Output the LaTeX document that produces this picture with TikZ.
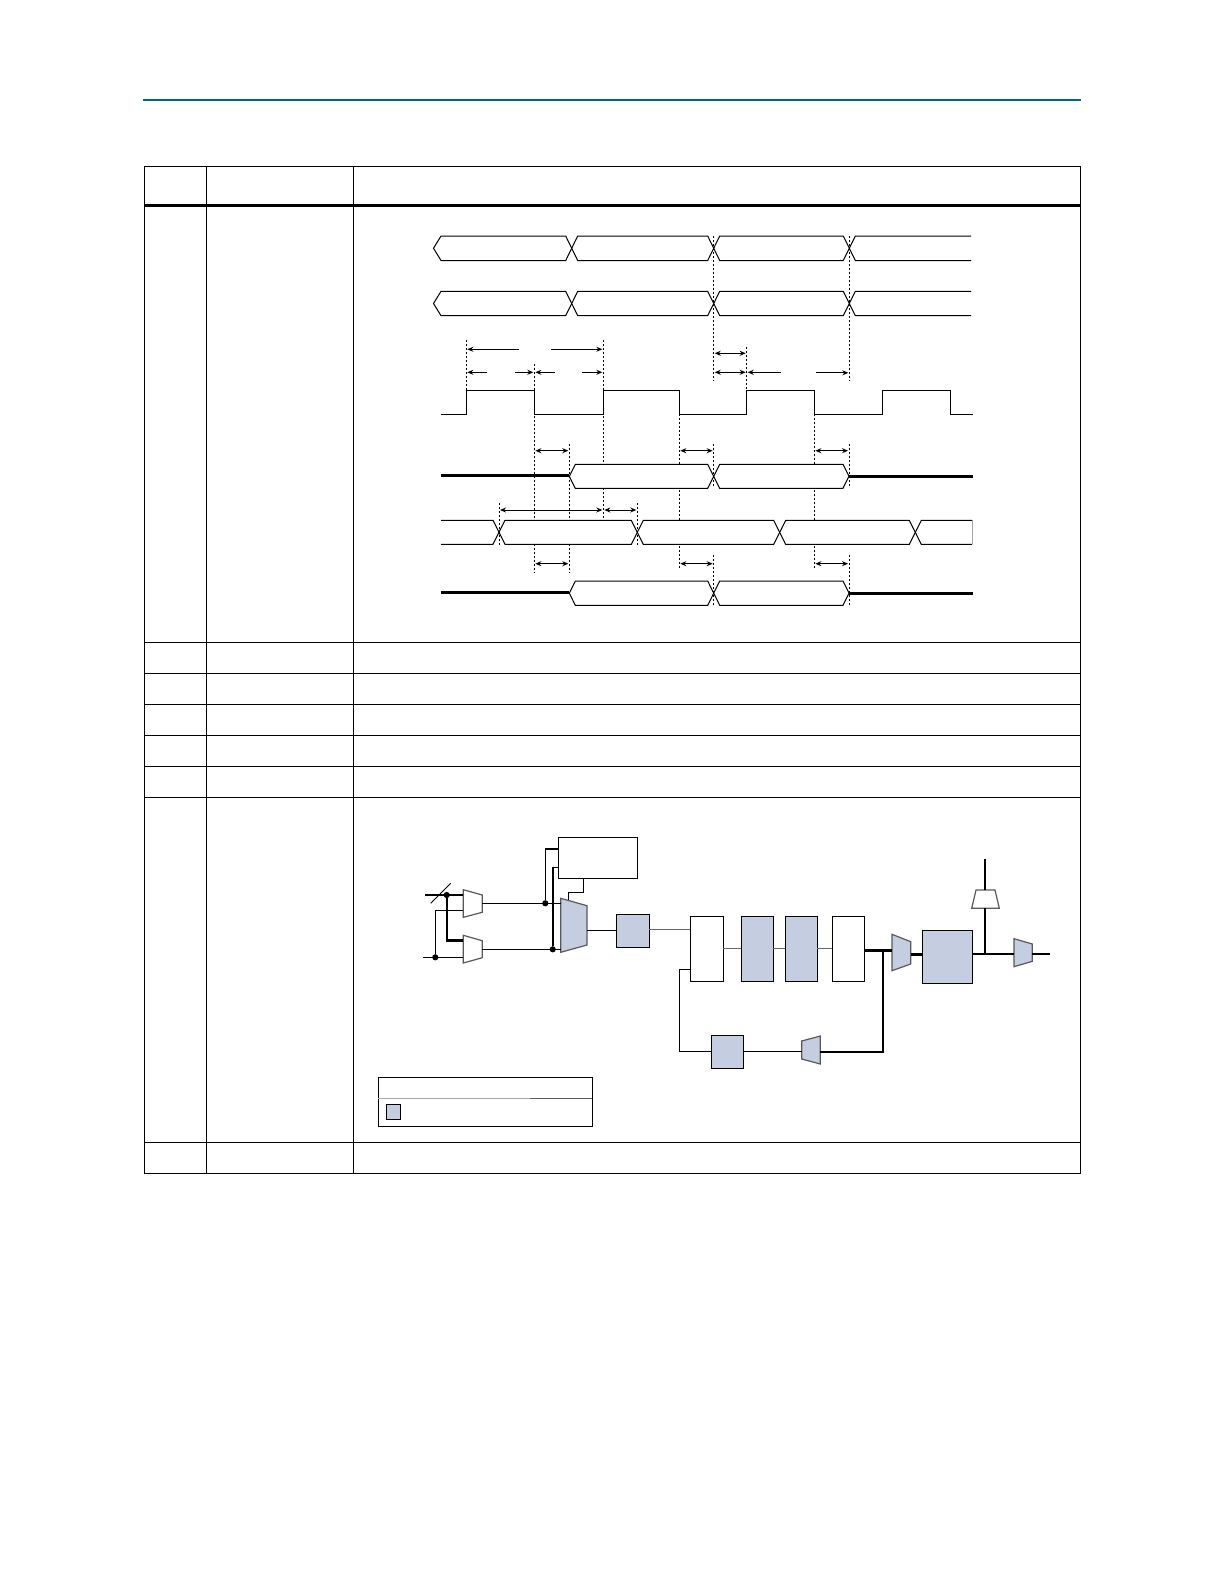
\documentclass[tikz,border=0pt]{standalone}
\usetikzlibrary{arrows.meta}
\definecolor{rulecol}{RGB}{0,104,135}
\definecolor{blockfill}{RGB}{197,206,224}
\tikzset{
  x=0.5pt,y=-0.5pt,
  tbl/.style={line width=0.5pt,black},
  tblthick/.style={line width=1.35pt,black},
  wave/.style={line width=0.5pt,black,line join=miter},
  waveend/.style={line width=0.4pt,black!35},
  thickwave/.style={line width=1.6pt,black},
  dashln/.style={line width=0.4pt,black,dash pattern=on 1pt off 1pt},
  dim/.style={line width=0.45pt,black,{Stealth[length=3pt,width=2.5pt]}-{Stealth[length=3pt,width=2.5pt]},shorten <=0.5pt,shorten >=0.5pt},
  dimr/.style={line width=0.45pt,black,-{Stealth[length=3pt,width=2.5pt]},shorten >=0.5pt},
  diml/.style={line width=0.45pt,black,{Stealth[length=3pt,width=2.5pt]}-,shorten <=0.5pt},
  blk/.style={draw=black,line width=0.5pt,inner sep=0pt,outer sep=0pt},
  blkwhite/.style={blk,fill=white},
  blkblue/.style={blk,fill=blockfill},
  muxblue/.style={draw=black!65,line width=0.6pt,fill=blockfill,line join=miter},
  muxwhite/.style={draw=black!65,line width=0.6pt,fill=white,line join=miter},
  wire/.style={line width=0.5pt,black},
  wiregray/.style={line width=0.5pt,black!60},
  wiremid/.style={line width=0.8pt,black},
  bus/.style={line width=1.2pt,black},
  jdot/.style={circle,fill=black,inner sep=0pt,outer sep=0pt,minimum size=3.1pt},
}
% hexagon of a bus value between two crossings
\newcommand{\hexv}[4]{\draw[wave,fill=white] (#1,{(#3+#4)/2}) -- ({#1+6},#3) -- ({#2-6},#3) -- (#2,{(#3+#4)/2}) -- ({#2-6},#4) -- ({#1+6},#4) -- cycle;}
% box node from corners
\newcommand{\bx}[6]{\node[#6,minimum width={(#4-#2)*0.5pt},minimum height={(#5-#3)*0.5pt}] (#1) at ({(#2+#4)/2},{(#3+#5)/2}) {};}
\begin{document}
\begin{tikzpicture}
\useasboundingbox (0,0) rectangle (1224,1584);
% header rule
\draw[line width=1pt,rulecol] (142.7,100) -- (1081,100);
% table
\draw[tbl] (144.5,166.3) rectangle (1080.3,1173);
\foreach \yy in {642.3,673.3,704.3,735.3,766.3,797.3,1142.3}
  \draw[tbl] (144.5,\yy) -- (1080.3,\yy);
\foreach \xx in {206.3,353.5}
  \draw[tbl] (\xx,166.3) -- (\xx,1173);
\draw[tblthick] (144.5,205.3) -- (1080.3,205.3);

% ---- timing diagram ----
% dashed lines hidden by white bus values
\foreach \xx/\ya/\yb in {534.3/364/573, 603.3/340/518, 569.3/444/573, 679.3/414/570, 814.3/414/570, 466.3/340/390, 746.7/346.7/390}
  \draw[dashln] (\xx,\ya) -- (\xx,\yb);
% rows 1 and 2
\foreach \ta/\tb in {236/260.5, 291.3/315.7}{
  \draw[wave,fill=white] (571.7,{(\ta+\tb)/2}) -- (565.7,\ta) -- (441,\ta) -- (433.5,{(\ta+\tb)/2}) -- (441,\tb) -- (565.7,\tb) -- cycle;
  \hexv{571.7}{713.7}{\ta}{\tb}
  \hexv{713.7}{849.3}{\ta}{\tb}
  \draw[wave] (971,\ta) -- (855.3,\ta) -- (849.3,{(\ta+\tb)/2}) -- (855.3,\tb) -- (971,\tb);
}
% clock
\draw[wave] (441,414) -- (466.3,414) -- (466.3,390.3) -- (534.3,390.3) -- (534.3,414) -- (603.3,414) -- (603.3,390.3) -- (679.3,390.3) -- (679.3,414) -- (746.7,414) -- (746.7,390.3) -- (814.3,390.3) -- (814.3,414) -- (882.3,414) -- (882.3,390.3) -- (950.3,390.3) -- (950.3,414) -- (972.7,414);
% row 4
\draw[thickwave] (441,475.6) -- (569.3,475.6);
\draw[thickwave] (849,476.3) -- (972.7,476.3);
\hexv{569.3}{713.7}{464.3}{488.3}
\hexv{713.7}{849}{464.3}{488.3}
% row 5
\draw[waveend] (441,520.3) -- (441,544.3);
\draw[waveend] (972,520.3) -- (972,544.3);
\draw[wave,fill=white] (441,520.3) -- (493,520.3) -- (499,532.3) -- (493,544.3) -- (441,544.3);
\hexv{499}{637.3}{520.3}{544.3}
\hexv{637.3}{779.7}{520.3}{544.3}
\hexv{779.7}{915.3}{520.3}{544.3}
\draw[wave] (972,520.3) -- (921.3,520.3) -- (915.3,532.3) -- (921.3,544.3) -- (972,544.3);
% row 6
\draw[thickwave] (441,592.6) -- (569.3,592.6);
\draw[thickwave] (849,593.3) -- (972.7,593.3);
\hexv{569.3}{713.7}{581}{605.3}
\hexv{713.7}{849}{581}{605.3}
% dashed lines over the crossings
\foreach \xx/\ya/\yb in {713.7/236/380.7, 849.3/236/380.7, 713.7/444/488, 849/444/486, 713.7/555/605, 849/555/605, 499/503/545, 637.3/503/545}
  \draw[dashln] (\xx,\ya) -- (\xx,\yb);
% dimension arrows
\draw[diml] (466.3,349.3) -- (519,349.3);
\draw[dimr] (551,349.3) -- (603.3,349.3);
\draw[diml] (466.3,372.3) -- (486.7,372.3);
\draw[dimr] (515,372.3) -- (534.3,372.3);
\draw[diml] (534.3,372.3) -- (555,372.3);
\draw[dimr] (582,372.3) -- (603.3,372.3);
\draw[dim] (713.7,353.3) -- (746.7,353.3);
\draw[dim] (713.7,372.3) -- (746.7,372.3);
\draw[diml] (746.7,372.3) -- (781,372.3);
\draw[dimr] (816,372.8) -- (849.3,372.8);
\foreach \ya/\yb in {534.3/569.3, 679.3/713.7, 814.3/849}{
  \draw[dim] (\ya,450.7) -- (\yb,450.7);
  \draw[dim] (\ya,563.7) -- (\yb,563.7);
}
\draw[dim] (499,510) -- (603.3,510);
\draw[dim] (603.3,510) -- (637.3,510);

% ---- block diagram ----
\bx{ctl}{558.3}{837.3}{637.3}{878.3}{blkwhite}
\bx{boxa}{616.3}{914.3}{649.3}{947.3}{blkblue}
\bx{wone}{690.3}{916.3}{723.3}{981.3}{blkwhite}
\bx{wtwo}{741.3}{916.3}{773.3}{981.3}{blkblue}
\bx{wthree}{785.3}{916.3}{817.3}{981.3}{blkblue}
\bx{wfour}{832.3}{916.3}{864.3}{981.3}{blkwhite}
\bx{boxb}{711.3}{1035.3}{743.3}{1068.3}{blkblue}
\bx{boxc}{922.3}{930.3}{972.7}{983.3}{blkblue}
% multiplexers
\draw[muxwhite] (463.3,889.7) -- (482.3,895) -- (482.3,912.3) -- (463.3,917.3) -- cycle;
\draw[muxwhite] (463.3,935.3) -- (482.3,940.7) -- (482.3,957.7) -- (463.3,963) -- cycle;
\draw[muxblue] (560.7,898.3) -- (587,905.7) -- (587,945) -- (560.7,952.3) -- cycle;
\draw[muxblue] (892,934.3) -- (910.7,941.7) -- (910.7,964) -- (892,970.7) -- cycle;
\draw[muxblue] (820.3,1036) -- (801.7,1041) -- (801.7,1059) -- (820.3,1064) -- cycle;
\draw[muxblue] (1014,938.7) -- (1032.3,944) -- (1032.3,961.3) -- (1014,966.7) -- cycle;
\draw[muxwhite] (976,890) -- (995,890) -- (999.3,908.3) -- (971.7,908.3) -- cycle;
% named pins and junctions
\coordinate (inbus) at (425.3,895);
\coordinate (mone) at (463.3,895);
\coordinate (mtwo) at (463.3,940.3);
\coordinate (intwo) at (422.7,957.3);
\coordinate (mtwob) at (463.3,957.3);
\coordinate (monec) at (463.3,910.3);
\coordinate (oneout) at (482.3,903.3);
\coordinate (twoout) at (482.3,949.3);
\coordinate (bigina) at (560.7,903.3);
\coordinate (biginb) at (560.7,949.3);
\coordinate (bigout) at (587,930.3);
\coordinate (bigsel) at (568.3,900.3);
\coordinate (slasha) at (430.7,903.3);
\coordinate (slashb) at (450.7,883.3);
\coordinate (loopmux) at (801.7,1051.8);
\coordinate (loopbus) at (820.3,1051.8);
\coordinate (mmuxin) at (892,950.3);
\coordinate (mmuxout) at (910.7,954.3);
\coordinate (oa) at (972.7,953.7);
\coordinate (obr) at (988.3,953.7);
\coordinate (rmuxin) at (1014,953.7);
\coordinate (rmuxout) at (1032.3,953.7);
\coordinate (outend) at (1050.3,953.7);
\coordinate (topmux) at (984.7,908.3);
\coordinate (topbase) at (984.7,953.7);
\coordinate (topmuxt) at (984.7,890);
\coordinate (topend) at (984.7,859.3);
\node[jdot] (jbus) at (446.7,895) {};
\node[jdot] (jclk) at (435.3,957.3) {};
\node[jdot] (jone) at (545.3,903.3) {};
\node[jdot] (jtwo) at (552.7,949.3) {};
\coordinate (jbusd) at (446.7,940.3);
% wires
\draw[bus] (inbus) -- (mone);
\draw[wire] (slasha) -- (slashb);
\draw[bus] (jbus) -- (jbusd) -- (mtwo);
\draw[wire] (intwo) -- (mtwob);
\draw[wiremid] (jclk) |- (monec);
\draw[wire] (oneout) -- (bigina);
\draw[wire] (twoout) -- (biginb);
\draw[wiremid] (jone) |- (ctl.west |- 0,849);
\draw[bus] (jone |- 0,849) -- (ctl.west |- 0,849);
\draw[bus] (jtwo) -- (jtwo |- 0,867.3);
\draw[wire] (jtwo |- 0,867.3) -- (ctl.west |- 0,867.3);
\draw[wire] (ctl.south -| 583.3,0) |- (bigsel |- 0,892.3) -- (bigsel);
\draw[wire] (bigout) -- (boxa.west |- bigout);
\draw[wiregray] (boxa.east |- 0,929.7) -- (wone.west |- 0,929.7);
\draw[wiregray] (wone.east |- 0,948.3) -- (wtwo.west |- 0,948.3);
\draw[wiregray] (wtwo.east |- 0,948.3) -- (wthree.west |- 0,948.3);
\draw[wiregray] (wthree.east |- 0,948.3) -- (wfour.west |- 0,948.3);
\draw[wire] (wone.west |- 0,969.3) -| (679.3,1051.8) -- (boxb.west);
\draw[wire] (boxb.east) -- (loopmux);
\draw[bus] (loopbus) -| (882.7,950.3);
\draw[bus] (wfour.east |- mmuxin) -- (mmuxin);
\draw[bus] (mmuxout) -- (boxc.west |- mmuxout);
\draw[bus] (oa) -- (obr);
\draw[wiremid] (obr) -- (rmuxin);
\draw[wiremid] (rmuxout) -- (outend);
\draw[wiremid] (topbase) -- (topmux);
\draw[bus] (topmuxt) -- (topend);
% legend
\node[blk,minimum width=107pt,minimum height=24.5pt] (legend) at (485.3,1101.8) {};
\draw[line width=0.5pt,black!35] (legend.west |- 0,1098) -- (530,1098);
\draw[line width=0.5pt,black!65] (530,1098) -- (legend.east |- 0,1098);
\bx{legendkey}{386.3}{1104.3}{400.7}{1119.3}{blkblue}
\end{tikzpicture}
\end{document}
